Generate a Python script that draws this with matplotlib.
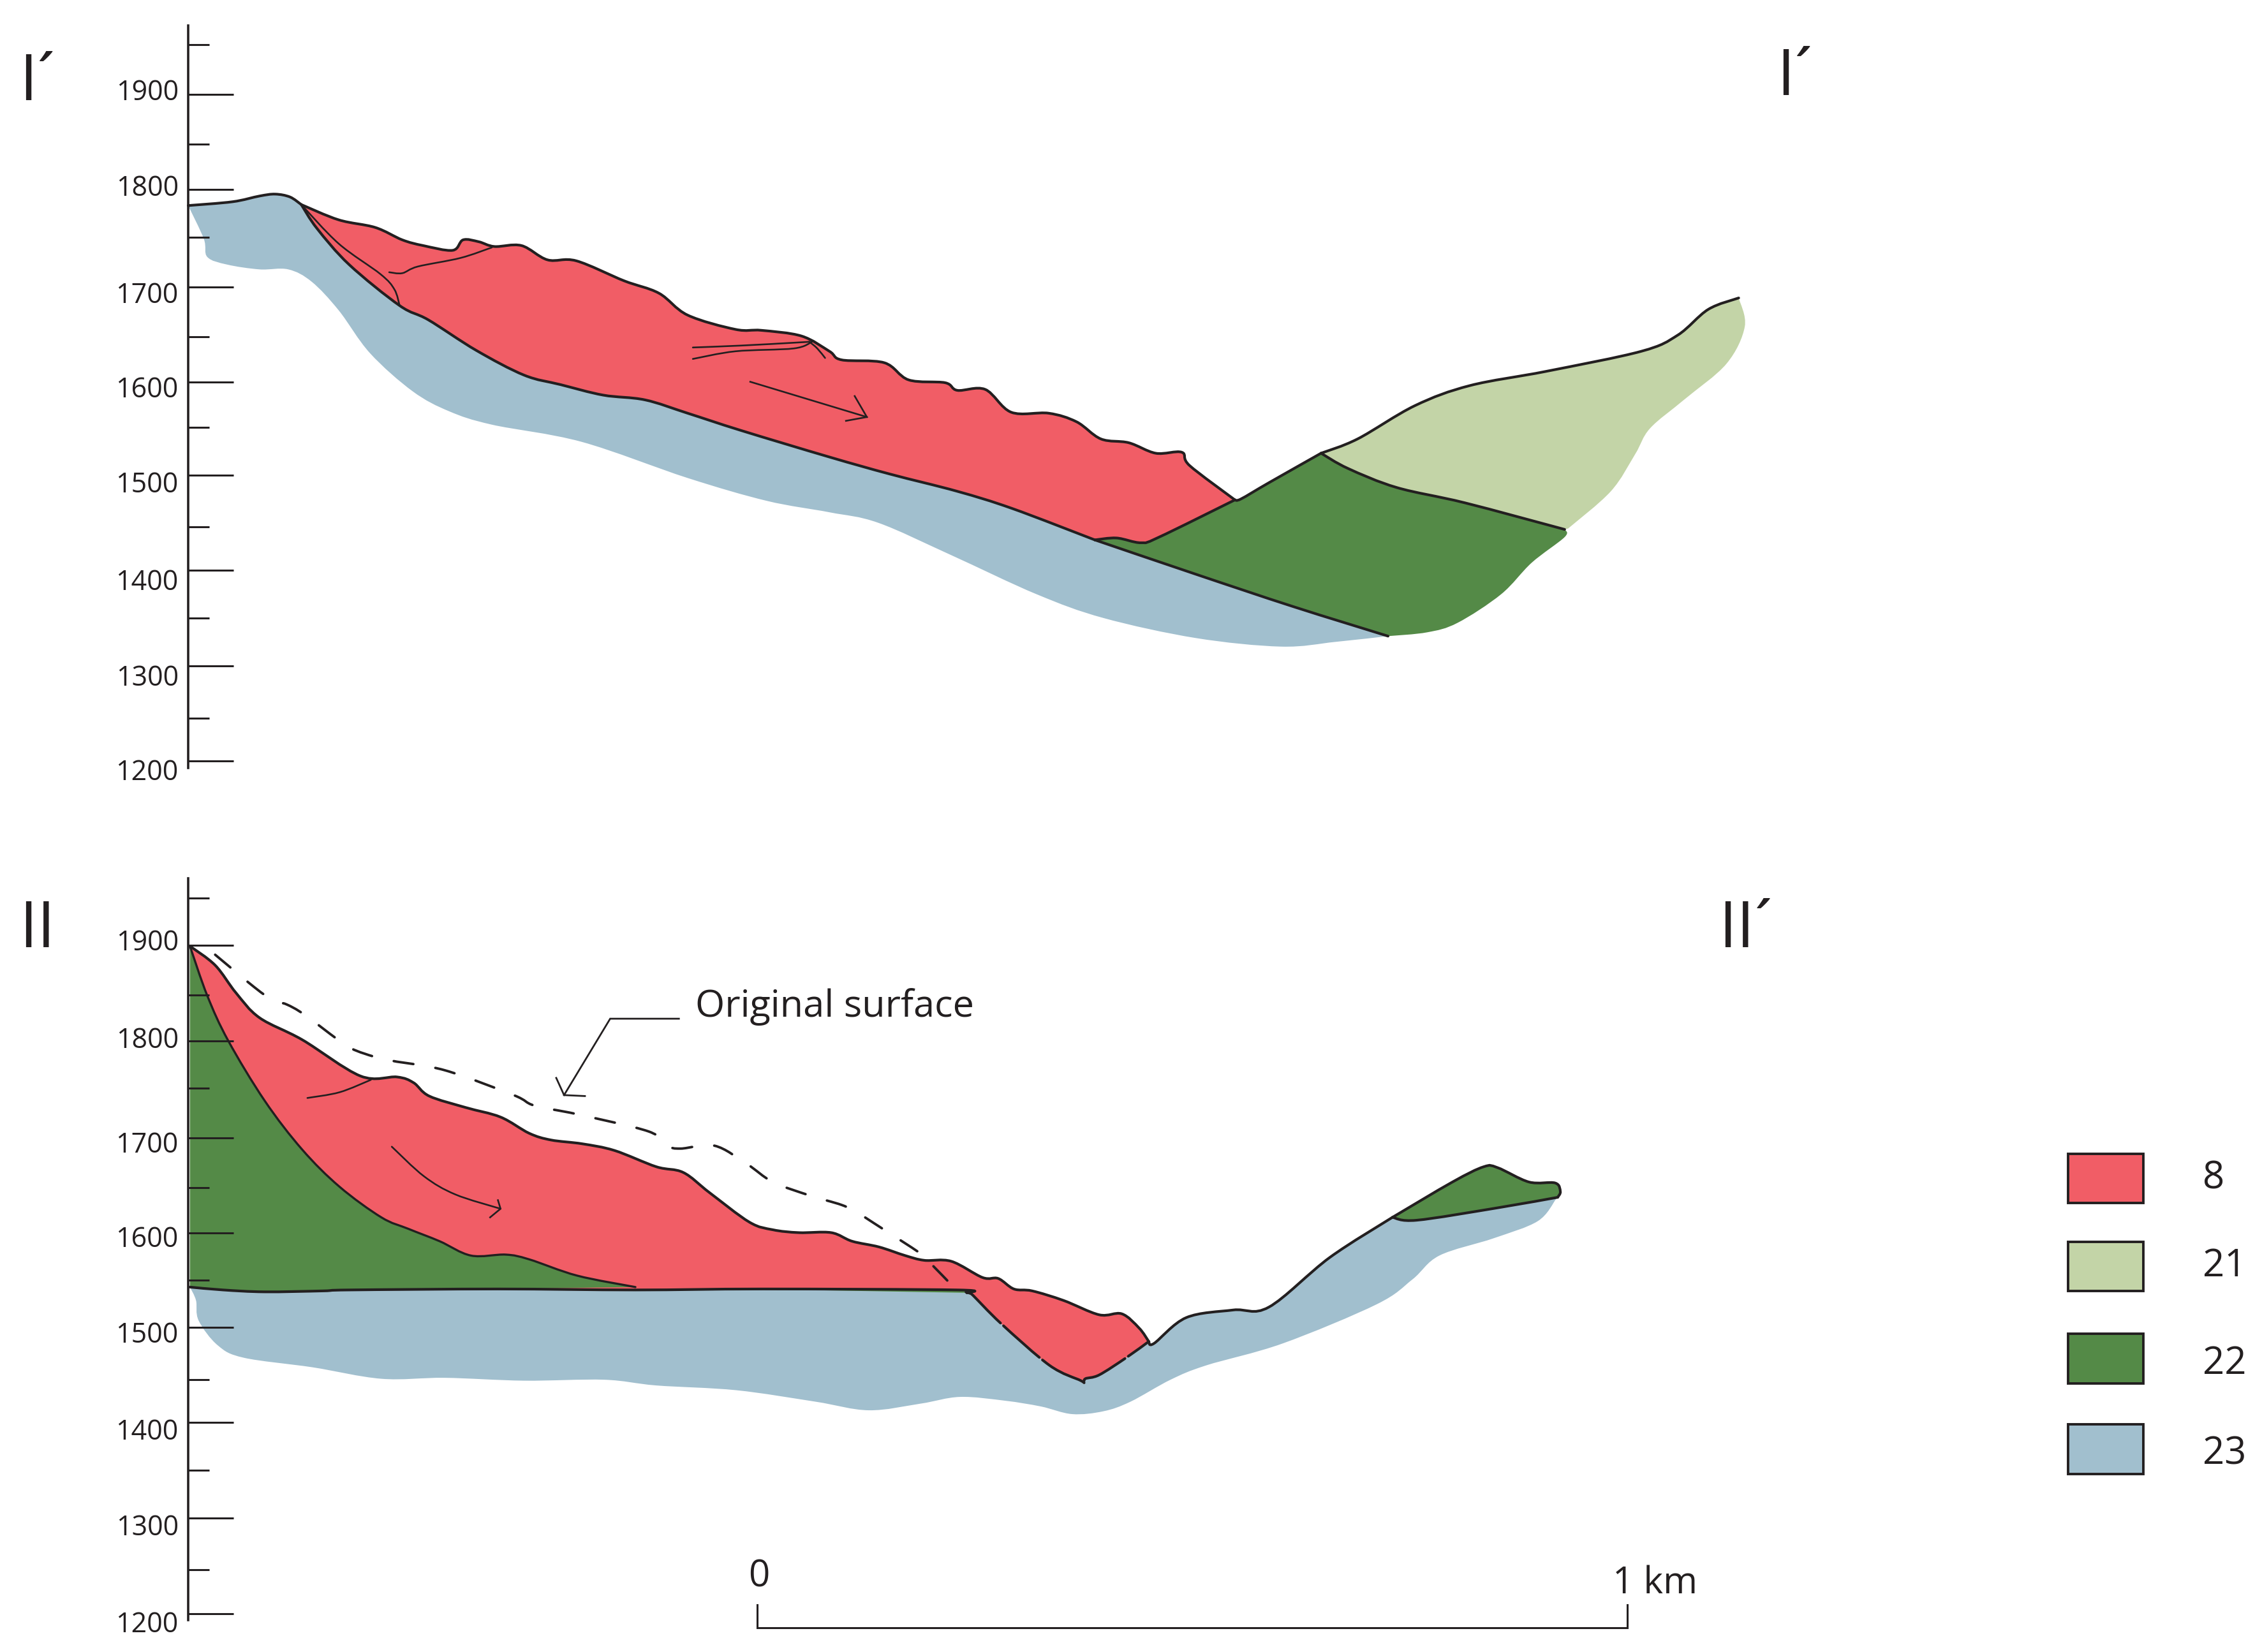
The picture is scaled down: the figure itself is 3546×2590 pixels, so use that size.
import numpy as np
import matplotlib
matplotlib.use("Agg")
import matplotlib.pyplot as plt
from matplotlib.patches import PathPatch, Rectangle
from matplotlib.path import Path
from matplotlib.transforms import ScaledTranslation

plt.rcParams["font.family"] = ["Open Sans", "DejaVu Sans"]

# =============================================================
# DATA: x = metres along section, y = elevation (m)
# =============================================================

tick_labels = ["1900", "1800", "1700", "1600", "1500", "1400", "1300", "1200"]

top_major = [1900, 1800, 1697.5, 1597.6, 1500, 1400, 1300, 1200]
top_minor = [1951.6, 1847.4, 1750, 1645, 1550, 1445.5, 1350, 1245]
bot_major = [1900, 1800, 1698.5, 1599, 1500, 1400, 1300, 1200]
bot_minor = [1949.5, 1848, 1750, 1646, 1549, 1445, 1350, 1246]

legend_labels = ["8", "21", "22", "23"]

# section I
t_cap = [(0, 1783), (51, 1787), (82, 1793), (100, 1795), (117, 1792), (130, 1784)]
t_red_top = [(130, 1784), (173, 1768), (215, 1760), (246, 1747), (270, 1741), (304, 1736),
             (316, 1747), (334, 1745), (352, 1740), (383, 1741), (413, 1726), (446, 1725),
             (501, 1704), (541, 1691), (574, 1668), (629, 1653), (659, 1652), (705, 1646),
             (737, 1630), (751, 1621), (800, 1618), (828, 1600), (870, 1597), (884, 1589),
             (916, 1590), (946, 1566), (989, 1565), (1021, 1556), (1049, 1538), (1081, 1534),
             (1112, 1523), (1142, 1524), (1151, 1510), (1203, 1474)]
t_red_base = [(130, 1784), (148, 1759), (185, 1721), (243, 1678), (276, 1663), (331, 1631),
              (386, 1605), (428, 1595), (477, 1584), (525, 1579), (574, 1565), (635, 1547),
              (737, 1519), (807, 1501), (884, 1483), (947, 1465), (1042, 1432)]
t_contact = [(1042, 1432), (1067, 1434), (1095, 1429), (1116, 1435), (1203, 1474)]
t_green_top = [(1203, 1474), (1210, 1475), (1242, 1492), (1302, 1523)]
t_light_top = [(1302, 1523), (1344, 1538), (1410, 1573), (1473, 1594), (1561, 1609),
               (1670, 1630), (1712, 1647), (1747, 1674), (1782, 1686)]
t_light_right = [(1782, 1686), (1789, 1656), (1768, 1617), (1719, 1579), (1680, 1549),
                 (1663, 1522), (1635, 1483), (1586, 1444)]
t_green_contact = [(1302, 1523), (1333, 1507), (1389, 1487), (1467, 1471), (1582, 1443)]
t_green_outer = [(1582, 1443), (1582, 1435), (1544, 1408), (1509, 1375), (1459, 1345),
                 (1424, 1335), (1379, 1331)]
t_base_lower = [(1042, 1432), (1158, 1396), (1270, 1362), (1379, 1331)]
t_blue_lower = [(0, 1783), (18, 1748), (22, 1729), (45, 1721), (82, 1716), (115, 1716),
                (142, 1703), (173, 1673), (209, 1628), (258, 1588), (300, 1567), (349, 1553),
                (452, 1535), (574, 1497), (665, 1473), (737, 1461), (793, 1450), (877, 1416),
                (975, 1375), (1052, 1350), (1158, 1329), (1256, 1320), (1319, 1325), (1379, 1331)]
t_scarps = [
    [(130, 1784), (173, 1743), (221, 1711), (237, 1695), (243, 1678)],
    [(231, 1713), (246, 1712), (264, 1719), (313, 1728), (349, 1739)],
    [(580, 1634), (635, 1636), (696, 1639), (714, 1640)],
    [(580, 1622), (629, 1630), (696, 1633), (717, 1640)],
    [(714, 1640), (723, 1633), (732, 1623)],
]
t_arrow = [[(646, 1598), (780, 1561)], [(766, 1583), (780, 1561), (756, 1557)]]

# section II
b_red_top = [(2, 1899), (31, 1879), (55, 1850), (82, 1824), (131, 1801), (198, 1763), (240, 1762),
             (259, 1756), (277, 1742), (319, 1730), (359, 1720), (392, 1703), (417, 1696),
             (453, 1692), (490, 1685), (538, 1668), (569, 1662), (599, 1641), (645, 1610),
             (672, 1602), (702, 1599), (739, 1599), (763, 1590), (794, 1584), (824, 1575),
             (846, 1570), (877, 1569), (913, 1552), (931, 1551), (949, 1540), (970, 1538),
             (1006, 1528), (1047, 1513), (1073, 1514), (1093, 1499), (1104, 1485)]
b_red_base = [(2, 1899), (22, 1847), (46, 1800), (88, 1737), (131, 1686), (174, 1647), (222, 1615),
              (253, 1603), (289, 1590), (325, 1575), (365, 1576), (392, 1571), (447, 1554), (514, 1542)]
b_flat = [(2, 1542), (40, 1539), (88, 1537), (155, 1538), (186, 1539), (356, 1540), (514, 1539),
          (660, 1540), (884, 1539), (895, 1536)]
b_gully = [(895, 1536), (900, 1535), (934, 1504), (990, 1460), (1026, 1444), (1030, 1441),
           (1031, 1446), (1047, 1450), (1078, 1468), (1104, 1485)]
b_blue_top = [(1104, 1485), (1110, 1483), (1147, 1510), (1201, 1518), (1242, 1521), (1312, 1573),
              (1384, 1615)]
b_green_top = [(1384, 1615), (1453, 1652), (1489, 1668), (1505, 1667), (1541, 1652), (1571, 1651),
               (1577, 1642), (1574, 1636)]
b_green_base = [(1574, 1636), (1505, 1625), (1412, 1612), (1384, 1615)]
b_blue_lower = [(1574, 1636), (1572, 1634), (1551, 1611), (1500, 1593), (1438, 1575), (1407, 1550),
                (1366, 1524), (1258, 1483), (1170, 1460), (1129, 1445), (1083, 1422), (1052, 1412),
                (1016, 1409), (980, 1417), (939, 1423), (887, 1427), (842, 1420), (782, 1413),
                (721, 1422), (630, 1434), (538, 1439), (478, 1445), (386, 1444), (295, 1447),
                (222, 1446), (143, 1458), (64, 1468), (34, 1481), (12, 1507), (9, 1528), (2, 1542)]
b_original = [(31, 1890), (76, 1856), (98, 1842), (113, 1838), (134, 1827), (180, 1796), (204, 1786),
              (234, 1779), (295, 1769), (374, 1743), (398, 1732), (447, 1723), (529, 1705), (551, 1690),
              (566, 1687), (605, 1690), (642, 1671), (672, 1652), (714, 1638), (751, 1628), (769, 1620),
              (788, 1609), (842, 1577), (851, 1569), (867, 1554), (882, 1541), (900, 1535)]
b_scarps = [
    [(137, 1740), (174, 1746), (210, 1759)],
    [(234, 1689), (271, 1658), (307, 1639), (359, 1624)],
]
b_arrow_head = [(356, 1633), (359, 1624), (347, 1615)]
leader = [(564, 1823), (485, 1823), (432, 1743)]
leader_head = [(423, 1761), (432, 1743), (456, 1742)]
scale_bar = [(654, 1209), (654, 1185), (1654, 1185), (1654, 1209)]

# =============================================================
# STYLE
# =============================================================

W, H = 3546, 2590
RED = "#F15D66"
LIGHT = "#C3D4A7"
GREEN = "#548A47"
BLUE = "#A1BFCE"
INK = "#231F20"
AXIS_X = 295


def make_axes(fig, top_px, bottom_px, ylim):
    ax = fig.add_axes([AXIS_X / W, 1 - bottom_px / H, (W - AXIS_X) / W, (bottom_px - top_px) / H])
    ax.set_xlim(0, (W - AXIS_X) / 1.364)
    ax.set_ylim(*ylim)
    ax.patch.set_visible(False)
    for s in ["top", "right", "bottom"]:
        ax.spines[s].set_visible(False)
    ax.spines["left"].set_linewidth(2.6)
    ax.spines["left"].set_color(INK)
    ax.set_xticks([])
    return ax


def set_ticks(ax, major, minor, label_offsets):
    ax.tick_params(axis="y", which="major", direction="in", length=51, width=2.2, color=INK,
                   pad=11, labelsize=31, labelcolor=INK)
    ax.tick_params(axis="y", which="minor", direction="in", length=24, width=2.2, color=INK)
    ax.set_yticks(major, tick_labels)
    ax.set_yticks(minor, minor=True)
    # the labels do not sit exactly on their ticks in the figure
    for lab, off in zip(ax.get_yticklabels(), label_offsets):
        lab.set_transform(lab.get_transform() + ScaledTranslation(0, -off / 100, ax.figure.dpi_scale_trans))


def curve_to(verts, codes, pts):
    pts = np.array(pts, dtype=float)
    for i in range(len(pts) - 1):
        p0 = pts[max(i - 1, 0)]
        p1 = pts[i]
        p2 = pts[i + 1]
        p3 = pts[min(i + 2, len(pts) - 1)]
        verts += [p1 + (p2 - p0) / 6, p2 - (p3 - p1) / 6, p2]
        codes += [Path.CURVE4] * 3


def fill(ax, color, *parts):
    verts, codes = [np.array(parts[0][0], dtype=float)], [Path.MOVETO]
    for part in parts:
        verts.append(np.array(part[0], dtype=float))
        codes.append(Path.LINETO)
        curve_to(verts, codes, part)
    verts.append(verts[0])
    codes.append(Path.CLOSEPOLY)
    ax.add_patch(PathPatch(Path(verts, codes), facecolor=color, edgecolor="none", lw=0))


def line(ax, pts, lw=3.0, **kw):
    verts, codes = [np.array(pts[0], dtype=float)], [Path.MOVETO]
    curve_to(verts, codes, pts)
    ax.add_patch(PathPatch(Path(verts, codes), fill=False, edgecolor=INK, lw=lw, clip_on=False,
                           joinstyle="round", capstyle="round", **kw))


def straight(ax, pts, lw=2.0):
    pts = np.array(pts, dtype=float)
    ax.plot(pts[:, 0], pts[:, 1], color=INK, lw=lw, clip_on=False, solid_joinstyle="miter")


def text_px(fig, x, y, s, size, **kw):
    fig.text(x / W, 1 - y / H, s, fontsize=size, color=INK, **kw)


# =============================================================
# DRAWING
# =============================================================

fig = plt.figure(figsize=(W / 100, H / 100), dpi=100)
fig.patch.set_facecolor("white")

# section I
ax1 = make_axes(fig, 40, 1204, (1192.6, 1972))
set_ticks(ax1, top_major, top_minor, [-7, -7, 8, 7, 10, 14, 15, 13])
fill(ax1, BLUE, t_cap, t_red_base, t_base_lower, t_blue_lower[::-1])
fill(ax1, RED, t_red_top, t_contact[::-1], t_red_base[::-1])
fill(ax1, GREEN, t_contact, t_green_top, t_green_contact, t_green_outer, t_base_lower[::-1])
fill(ax1, LIGHT, t_light_top, t_light_right, t_green_contact[::-1])
for seg in [t_cap, t_red_top, t_red_base, t_contact, t_green_top, t_light_top, t_green_contact, t_base_lower]:
    line(ax1, seg)
for seg in t_scarps:
    line(ax1, seg, lw=1.9)
for seg in t_arrow:
    straight(ax1, seg, lw=1.9)

# section II
ax2 = make_axes(fig, 1377, 2540, (1193.3, 1970))
set_ticks(ax2, bot_major, bot_minor, [-9, -5, 7, 6, 7, 10, 10, 12])
fill(ax2, BLUE, b_flat, b_gully, b_blue_top, b_green_base[::-1], b_blue_lower)
fill(ax2, GREEN, b_red_base, b_flat[::-1])
fill(ax2, RED, b_red_top, b_gully[::-1], b_flat[::-1][:5], b_red_base[::-1])
fill(ax2, GREEN, b_green_top, b_green_base)
for seg in [b_red_top, b_flat, b_blue_top, b_green_top, b_green_base]:
    line(ax2, seg)
line(ax2, b_red_base, lw=2.4)
line(ax2, b_gully, linestyle=(0, (18, 1.5)))
line(ax2, b_original, lw=2.8, linestyle=(0, (8, 9)))
for seg in b_scarps:
    line(ax2, seg, lw=1.9)
straight(ax2, b_arrow_head, lw=1.9)
straight(ax2, leader)
straight(ax2, leader_head)
straight(ax2, scale_bar, lw=2.2)

# texts placed on the page
text_px(fig, 30, 157, "I´", 73, ha="left", va="baseline")
text_px(fig, 2785, 149, "I´", 73, ha="left", va="baseline")
text_px(fig, 30, 1485, "II", 73, ha="left", va="baseline")
text_px(fig, 2694, 1485, "II´", 73, ha="left", va="baseline")
text_px(fig, 1090, 1579, "Original surface", 42.8, ha="left", va="center")
text_px(fig, 1190, 2472, "0", 42, ha="center", va="center")
text_px(fig, 2528, 2483, "1 km", 42, ha="left", va="center")

# legend
legend_colors = [RED, LIGHT, GREEN, BLUE]
legend_boxes = [(1809, 1886), (1947, 2024), (2091, 2169), (2233, 2311)]
legend_text_y = [1847, 1985, 2138, 2279]
for col, (y0, y1), lab, ty in zip(legend_colors, legend_boxes, legend_labels, legend_text_y):
    fig.add_artist(Rectangle((3242 / W, 1 - y1 / H), 118 / W, (y1 - y0) / H, transform=fig.transFigure,
                             facecolor=col, edgecolor=INK, linewidth=2.8))
    text_px(fig, 3453, ty, lab, 43, ha="left", va="center")

fig.savefig("out.png", dpi=100)
